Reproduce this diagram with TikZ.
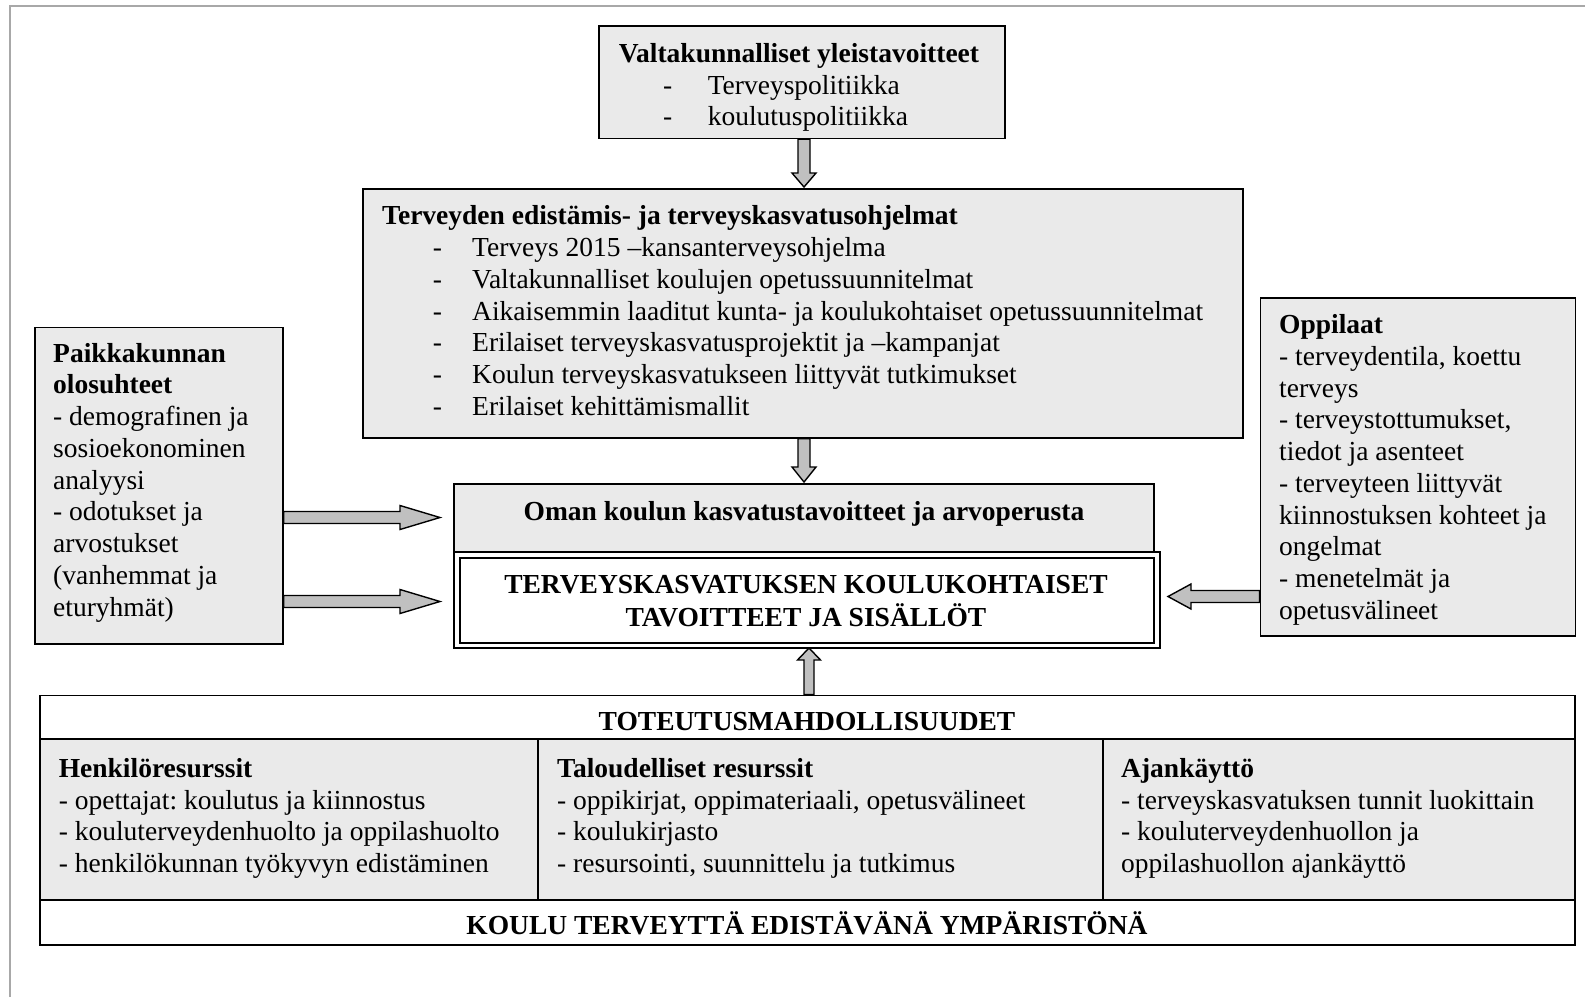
\documentclass[tikz,border=0pt]{standalone}
\usepackage{fontspec}
\setmainfont{Liberation Serif}
\frenchspacing
\usetikzlibrary{calc}
\definecolor{boxgray}{HTML}{EAEAEA}
\definecolor{arrowgray}{HTML}{C0C0C0}
\definecolor{framegray}{HTML}{A8A8A8}
\tikzset{
  panel/.style={draw=black, line width=1.6pt, fill=boxgray, rectangle, inner sep=0pt, anchor=north west},
  whitepanel/.style={panel, fill=white},
  txt/.style={inner sep=0pt, anchor=base west, font=\fontsize{27.5}{31.75}\selectfont},
  btxt/.style={txt, font=\fontsize{27.5}{31.75}\selectfont\bfseries},
  cbtxt/.style={btxt, anchor=base},
  barrow/.style={draw=black, line width=1.4pt, fill=arrowgray, line join=miter},
}
% block arrow: from, to, shaft half width, head half width, head length
\newcommand\blockarrow[5]{%
  \coordinate (bab) at ($(#2)!#5!(#1)$);
  \draw[barrow] ($(#1)!#3!90:(#2)$) -- ($(bab)!#3!90:(#2)$) -- ($(bab)!#4!90:(#2)$)
    -- (#2) -- ($(bab)!#4!-90:(#2)$) -- ($(bab)!#3!-90:(#2)$) -- ($(#1)!#3!-90:(#2)$) -- cycle;}

\begin{document}
\begin{tikzpicture}[x=1pt,y=-1pt]
\useasboundingbox (0,0) rectangle (1585,997);
\draw[framegray, line width=2pt] (9.5,997) -- (9.5,5.5) -- (1585,5.5);

% national goals
\node[panel, minimum width=406pt, minimum height=112.5pt] (A) at (598,25) {};
\node[btxt] (At) at (618.6,62) {Valtakunnalliset yleistavoitteet};
\foreach \t [count=\i from 0] in {Terveyspolitiikka, koulutuspolitiikka}{
  \node[txt] (Ad\i) at (663, 94+\i*31.2) {-};
  \node[txt] (Ai\i) at (707.6, 94+\i*31.2) {\t};
}

% programmes
\node[panel, minimum width=880pt, minimum height=249pt] (B) at (362,188) {};
\node[btxt] (Bt) at (382,224) {Terveyden edistämis- ja terveyskasvatusohjelmat};
\foreach \t [count=\i from 0] in {
  Terveys 2015 –kansanterveysohjelma,
  Valtakunnalliset koulujen opetussuunnitelmat,
  Aikaisemmin laaditut kunta- ja koulukohtaiset opetussuunnitelmat,
  Erilaiset terveyskasvatusprojektit ja –kampanjat,
  Koulun terveyskasvatukseen liittyvät tutkimukset,
  Erilaiset kehittämismallit}{
  \node[txt] (Bd\i) at (432.6, 256.7+\i*31.7) {-};
  \node[txt] (Bi\i) at (472, 256.7+\i*31.7) {\t};
}

% school's own goals
\node[panel, minimum width=700pt, minimum height=68pt] (C) at (453,483) {};
\node[cbtxt] (Ct) at (804,520.6) {Oman koulun kasvatustavoitteet ja arvoperusta};

% central box with double frame
\node[whitepanel, minimum width=706pt, minimum height=96pt] (D) at (453,551) {};
\node[whitepanel, minimum width=694pt, minimum height=85pt] (Din) at (459,557) {};
\node[cbtxt] (Dt1) at (806,593) {TERVEYSKASVATUKSEN KOULUKOHTAISET};
\node[cbtxt] (Dt2) at (806,626) {TAVOITTEET JA SISÄLLÖT};

% local conditions
\node[panel, minimum width=247.6pt, minimum height=316.5pt] (E) at (34.4,326.5) {};
\foreach \t/\s [count=\i from 0] in {
  Paikkakunnan/btxt, olosuhteet/btxt, - demografinen ja/txt, sosioekonominen/txt,
  analyysi/txt, - odotukset ja/txt, arvostukset/txt, {(vanhemmat ja}/txt, {eturyhmät)}/txt}{
  \node[\s] (E\i) at (53, 362+\i*31.75) {\t};
}

% pupils
\node[panel, minimum width=315pt, minimum height=338pt] (F) at (1259.5,297) {};
\foreach \t/\s [count=\i from 0] in {
  Oppilaat/btxt, {- terveydentila, koettu}/txt, terveys/txt, {- terveystottumukset,}/txt,
  tiedot ja asenteet/txt, - terveyteen liittyvät/txt, kiinnostuksen kohteet ja/txt,
  ongelmat/txt, - menetelmät ja/txt, opetusvälineet/txt}{
  \node[\s] (F\i) at (1279, 333.5+\i*31.75) {\t};
}

% implementation possibilities
\node[whitepanel, minimum width=1534.6pt, minimum height=249.5pt] (G) at (39.4,694.5) {};
\node[panel, minimum width=497.6pt, minimum height=161pt] (G1) at (39.4,738) {};
\node[panel, minimum width=565pt, minimum height=161pt] (G2) at (537,738) {};
\node[panel, minimum width=472pt, minimum height=161pt] (G3) at (1102,738) {};
\node[cbtxt] (Gt) at (807,730) {TOTEUTUSMAHDOLLISUUDET};
\node[cbtxt] (Gb) at (807,934.5) {KOULU TERVEYTTÄ EDISTÄVÄNÄ YMPÄRISTÖNÄ};
\foreach \t/\s [count=\i from 0] in {
  Henkilöresurssit/btxt, - opettajat: koulutus ja kiinnostus/txt,
  - kouluterveydenhuolto ja oppilashuolto/txt, - henkilökunnan työkyvyn edistäminen/txt}{
  \node[\s] (H\i) at (58.6, 777.4+\i*31.75) {\t};
}
\foreach \t/\s [count=\i from 0] in {
  Taloudelliset resurssit/btxt, {- oppikirjat, oppimateriaali, opetusvälineet}/txt,
  - koulukirjasto/txt, {- resursointi, suunnittelu ja tutkimus}/txt}{
  \node[\s] (T\i) at (557, 777.4+\i*31.75) {\t};
}
\foreach \t/\s [count=\i from 0] in {
  Ajankäyttö/btxt, - terveyskasvatuksen tunnit luokittain/txt,
  - kouluterveydenhuollon ja/txt, oppilashuollon ajankäyttö/txt}{
  \node[\s] (K\i) at (1121, 777.4+\i*31.75) {\t};
}

% block arrows
\coordinate (d1e) at (804,187);   \coordinate (d1s) at (d1e |- A.south);
\coordinate (d2e) at (804,482);   \coordinate (d2s) at (d2e |- B.south);
\coordinate (ue) at (809,648);    \coordinate (us) at (ue |- G.north);
\coordinate (l1e) at (440,517.5); \coordinate (l1s) at (l1e -| E.east);
\coordinate (l2e) at (440,601.5); \coordinate (l2s) at (l2e -| E.east);
\coordinate (re) at (1168,596.5); \coordinate (rs) at (re -| F.west);
\blockarrow{d1s}{d1e}{6pt}{12pt}{14pt}
\blockarrow{d2s}{d2e}{6pt}{12pt}{15pt}
\blockarrow{us}{ue}{5pt}{11.5pt}{12pt}
\blockarrow{l1s}{l1e}{6pt}{12pt}{40pt}
\blockarrow{l2s}{l2e}{6pt}{12pt}{40pt}
\blockarrow{rs}{re}{6pt}{12.5pt}{23pt}
\end{tikzpicture}
\end{document}
